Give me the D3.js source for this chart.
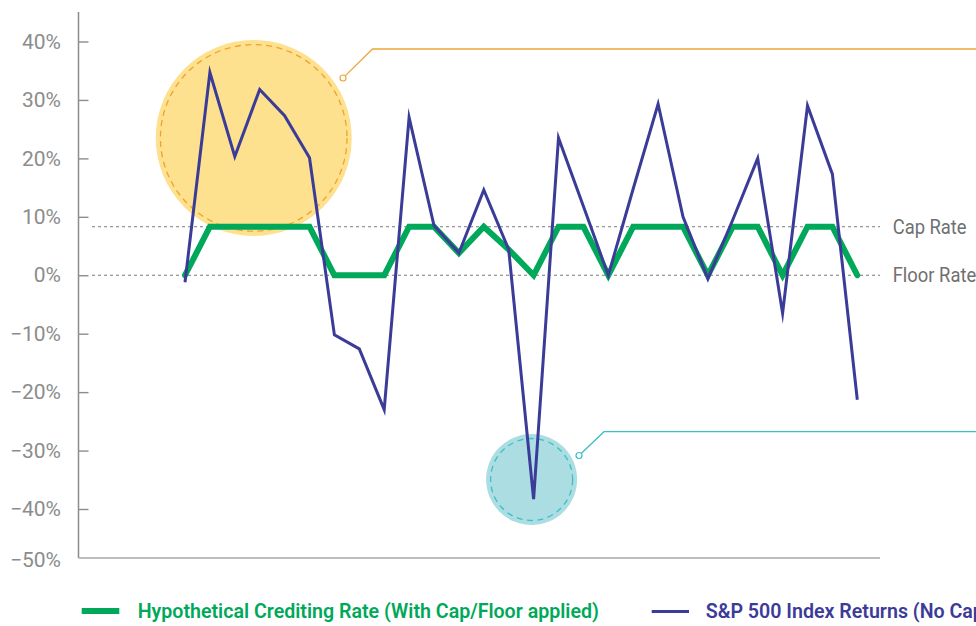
<!DOCTYPE html>
<html>
<head>
<meta charset="utf-8">
<script src="https://cdn.jsdelivr.net/npm/d3@7"></script>
<style>
  html, body { margin: 0; padding: 0; background: #fff; }
  svg { display: block; }
</style>
</head>
<body>
<svg id="chart" width="976" height="626"></svg>
<script>
// ---- Data ----
const years = [1994, 1995, 1996, 1997, 1998, 1999, 2000, 2001, 2002, 2003, 2004, 2005, 2006, 2007,
               2008, 2009, 2010, 2011, 2012, 2013, 2014, 2015, 2016, 2017, 2018, 2019, 2020, 2021];
const spReturns = [-1.2, 34.7, 20.3, 31.8, 27.3, 20.1, -10.2, -12.6, -23.0, 27.0, 8.5, 3.8, 14.6, 4.4,
                   -38.3, 23.5, 11.8, 0.0, 14.8, 29.3, 10.0, -0.6, 9.5, 20.0, -6.5, 29.0, 17.3, -21.3];
const crediting = [0, 8.3, 8.3, 8.3, 8.3, 8.3, 0, 0, 0, 8.3, 8.3, 3.8, 8.3, 4.4,
                   0, 8.3, 8.3, 0, 8.3, 8.3, 8.3, 0, 8.3, 8.3, 0, 8.3, 8.3, 0];
const capRate = 8.3;
const floorRate = 0;
const yTicks = [40, 30, 20, 10, 0, -10, -20, -30, -40];
const bottomTickLabel = "−50%";
const seriesNames = ["Hypothetical Crediting Rate (With Cap/Floor applied)", "S&P 500 Index Returns (No Cap/Floor)"];
const refLabels = ["Cap Rate", "Floor Rate"];

// ---- Layout ----
const svg = d3.select("#chart");
const axisX = 78.5, axisTop = 12, axisBottom = 558, axisRight = 880;
const x = d3.scalePoint().domain(years).range([185, 857.3]).padding(0);
const xi = d3.scaleLinear().domain([0, years.length - 1]).range([185, 857.3]); // fractional index for annotations
const y = d3.scaleLinear().domain([-40, 40]).range([509, 41.5]);

const fmt = v => (v < 0 ? "−" + Math.abs(v) : v) + "%";
const GREY = "#8c8c8c";
const BLUE = "#3b3b98";
const GREEN = "#00a859";

// ---- Annotation circles (behind) ----
const ann = svg.append("g");
// yellow highlight
ann.append("circle").attr("cx", xi(2.76)).attr("cy", y(23.5)).attr("r", 98)
  .attr("fill", "#fde18f");
ann.append("circle").attr("cx", xi(2.76)).attr("cy", y(23.5)).attr("r", 93.3)
  .attr("fill", "none").attr("stroke", "#f0a22e").attr("stroke-width", 1.3)
  .attr("stroke-dasharray", "6,4.5");
// teal highlight
ann.append("circle").attr("cx", xi(13.92)).attr("cy", y(-34.95)).attr("r", 45.5)
  .attr("fill", "#acdde3");
ann.append("circle").attr("cx", xi(13.92)).attr("cy", y(-34.95)).attr("r", 41)
  .attr("fill", "none").attr("stroke", "#3cbfc5").attr("stroke-width", 1.3)
  .attr("stroke-dasharray", "6,4.5");

// callouts
function callout(cx, cy, kx, ky, color) {
  const g = svg.append("g");
  const ang = Math.atan2(ky - cy, kx - cx);
  g.append("path")
    .attr("d", `M${cx + 3 * Math.cos(ang)},${cy + 3 * Math.sin(ang)}L${kx},${ky}L976,${ky}`)
    .attr("fill", "none").attr("stroke", color).attr("stroke-width", 1.3);
  g.append("circle").attr("cx", cx).attr("cy", cy).attr("r", 3)
    .attr("fill", "#fff").attr("stroke", color).attr("stroke-width", 1.2);
}
callout(343, 78, 372.5, 49, "#eea53a");
callout(579, 455.5, 604, 431.7, "#3cbfc5");

// ---- Reference lines (cap / floor) ----
const refs = svg.append("g");
[capRate, floorRate].forEach((v, i) => {
  refs.append("line").attr("x1", 92).attr("x2", axisRight)
    .attr("y1", y(v)).attr("y2", y(v))
    .attr("stroke", "#7a7a7a").attr("stroke-width", 1).attr("stroke-dasharray", "3,3");
  refs.append("text").attr("class", "reflabel").attr("x", 892.7).attr("y", y(v)).attr("dy", "0.36em")
    .attr("font-family", "Roboto, 'Liberation Sans', sans-serif").attr("font-size", 19.5)
    .attr("fill", "#707070").text(refLabels[i]);
});

// ---- Axes ----
const yAxis = d3.axisLeft(y).tickValues(yTicks).tickFormat(fmt).tickSize(-10).tickPadding(17.5);
const gy = svg.append("g").attr("transform", `translate(${axisX},0)`).call(yAxis);
gy.select(".domain").remove();
gy.selectAll(".tick line").attr("stroke", GREY).attr("stroke-width", 1.4);
gy.selectAll(".tick text").attr("fill", GREY).attr("font-size", 21)
  .attr("font-family", "Roboto, 'Liberation Sans', sans-serif");
svg.append("text").attr("x", axisX - 17.5).attr("y", 560).attr("dy", "0.32em")
  .attr("text-anchor", "end").attr("fill", GREY).attr("font-size", 21)
  .attr("font-family", "Roboto, 'Liberation Sans', sans-serif").text(bottomTickLabel);

svg.append("line").attr("x1", axisX).attr("x2", axisX).attr("y1", axisTop).attr("y2", axisBottom)
  .attr("stroke", GREY).attr("stroke-width", 1.5);
svg.append("line").attr("x1", axisX).attr("x2", axisRight).attr("y1", axisBottom).attr("y2", axisBottom)
  .attr("stroke", "#a8a8a8").attr("stroke-width", 1.5);

// ---- Series lines ----
const line = d3.line().x((d, i) => x(years[i])).y(d => y(d));
svg.append("path").datum(crediting).attr("d", line)
  .attr("fill", "none").attr("stroke", GREEN).attr("stroke-width", 6)
  .attr("stroke-linejoin", "miter").attr("stroke-linecap", "round");
svg.append("path").datum(spReturns).attr("d", line)
  .attr("fill", "none").attr("stroke", BLUE).attr("stroke-width", 3)
  .attr("stroke-linejoin", "miter").attr("stroke-miterlimit", 10).attr("stroke-linecap", "butt");

// ---- Legend ----
const lg = svg.append("g");
lg.append("rect").attr("x", 81.7).attr("y", 608).attr("width", 37.6).attr("height", 6).attr("fill", GREEN);
lg.append("rect").attr("x", 651.7).attr("y", 610).attr("width", 37.3).attr("height", 3).attr("fill", BLUE);
const t1 = lg.append("text").attr("x", 0).attr("y", 0)
  .attr("font-family", "Roboto, 'Liberation Sans', sans-serif").attr("font-size", 19.5)
  .attr("font-weight", 600).attr("fill", GREEN).text(seriesNames[0]);
const t2 = lg.append("text").attr("x", 0).attr("y", 0)
  .attr("font-family", "Roboto, 'Liberation Sans', sans-serif").attr("font-size", 19.5)
  .attr("font-weight", 600).attr("fill", BLUE).text(seriesNames[1]);
const w1 = t1.node().getComputedTextLength();
const k = 461.6 / w1;
t1.attr("transform", `translate(137.7,618) scale(${k},1)`);
t2.attr("transform", `translate(705.7,618) scale(${k},1)`);

// condense cap/floor labels to match reference width
const capNode = svg.selectAll(".reflabel").nodes()[0];
const kc = 74 / capNode.getComputedTextLength();
svg.selectAll(".reflabel").each(function () {
  const el = d3.select(this);
  const yy = +el.attr("y");
  el.attr("x", 0).attr("y", 0).attr("transform", `translate(892.7,${yy}) scale(${kc},1)`);
});
</script>
</body>
</html>
